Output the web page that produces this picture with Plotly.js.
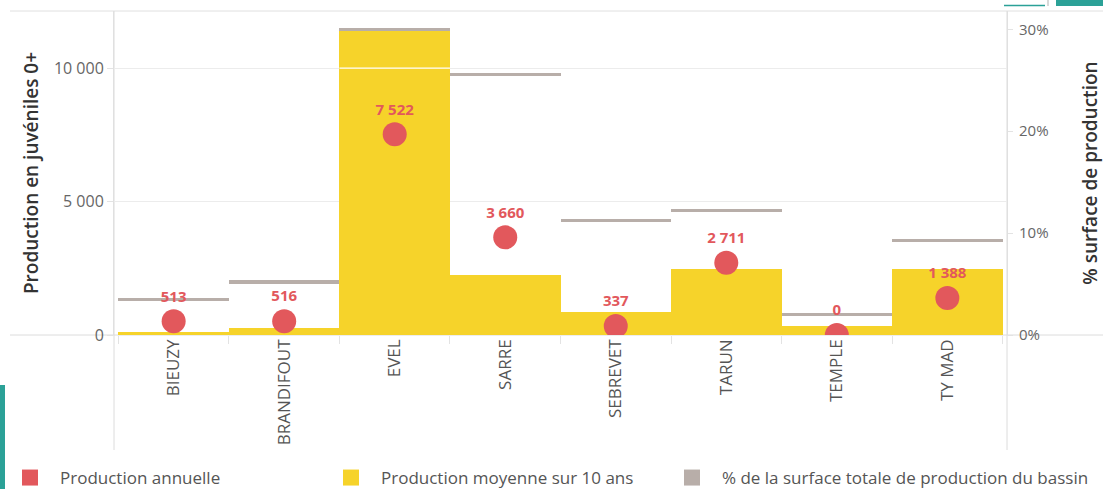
<!DOCTYPE html>
<html><head><meta charset="utf-8">
<script src="https://cdn.plot.ly/plotly-3.0.1.min.js"></script>
<style>html,body{margin:0;padding:0;background:#fff;}#chart{width:1103px;height:489px;}</style>
</head><body><div id="chart"></div>
<script>
const categories = ["BIEUZY","BRANDIFOUT","EVEL","SARRE","SEBREVET","TARUN","TEMPLE","TY MAD"];
const productionAnnuelle = [513, 516, 7522, 3660, 337, 2711, 0, 1388];
const productionMoyenne10 = [124, 274, 11495, 2249, 873, 2462, 349, 2462];
const pctSurface = [3.5, 5.2, 30.0, 25.6, 11.2, 12.2, 2.0, 9.3];
const leftTicks = [0, 5000, 10000];
const rightTicks = [0, 10, 20, 30];
const rightTickText = rightTicks.map(v => v + "%");

const RED = "#E2585C", YELLOW = "#F6D32A", GRAY = "#B8AEA9", TEAL = "#2BA197";
const lineThick = 0.3;

const W = 1103, H = 489, ML = 114, MR = 96, MT = 11, MB = 154;
const PW = W - ML - MR, PH = H - MT - MB;
const px = p => (p - ML) / PW;
const py = p => (H - MB - p) / PH;

const traces = [
  {type:"bar", x:categories, y:productionMoyenne10, yaxis:"y", marker:{color:YELLOW}, width:1, showlegend:false, hoverinfo:"skip"},
  {type:"bar", x:categories, y:pctSurface.map(()=>lineThick), base:pctSurface.map(v=>v-lineThick/2), yaxis:"y2", marker:{color:GRAY}, width:1, showlegend:false, hoverinfo:"skip"},
  {type:"scatter", mode:"markers+text", x:categories, y:productionAnnuelle, yaxis:"y3",
   marker:{color:RED, size:24}, text:productionAnnuelle, texttemplate:"%{y:,d}", textposition:"top center",
   textfont:{color:RED, size:15, weight:700}, cliponaxis:true, showlegend:false, hoverinfo:"skip"},
  {type:"scatter", mode:"markers", x:[null], y:[null], name:"Production annuelle", marker:{color:RED, symbol:"square", size:16}, legend:"legend"},
  {type:"scatter", mode:"markers", x:[null], y:[null], name:"Production moyenne sur 10 ans", marker:{color:YELLOW, symbol:"square", size:16}, legend:"legend2"},
  {type:"scatter", mode:"markers", x:[null], y:[null], name:"% de la surface totale de production du bassin", marker:{color:GRAY, symbol:"square", size:16}, legend:"legend3"}
];

const legendBase = {orientation:"h", xref:"container", yref:"container", yanchor:"middle", xanchor:"left", y:1 - 478/H,
  font:{size:17, color:"#555"}, itemwidth:50, bgcolor:"rgba(0,0,0,0)", borderwidth:0};

const line = (x0,y0,x1,y1,color,width,layer) => ({type:"line", xref:"paper", yref:"paper", x0, y0, x1, y1, line:{color, width}, layer:layer||"below"});

const layout = {
  width:W, height:H, margin:{l:ML, r:MR, t:MT, b:MB, pad:0, autoexpand:false},
  paper_bgcolor:"#fff", plot_bgcolor:"#fff",
  font:{family:"Open Sans, sans-serif", color:"#666"},
  separators:", ",
  barmode:"overlay", bargap:0,
  xaxis:{type:"category", automargin:false, tickangle:-90, tickson:"boundaries", ticks:"outside", ticklen:8, tickcolor:"#e3e3e3",
         showgrid:false, showline:false, zeroline:false, tickfont:{size:17, color:"#555"}, fixedrange:true},
  yaxis:{automargin:false, range:[0, PH/0.02668], tickvals:leftTicks, tickformat:",d", ticks:"outside", ticklen:6, tickcolor:"#e3e3e3",
         showgrid:true, gridcolor:"#ececec", zeroline:false, showline:true, linecolor:"#e0e0e0",
         tickfont:{size:16, color:"#666"},
         title:{text:"Production en juvéniles 0+", font:{size:19, color:"#333", weight:600}, standoff:10}},
  yaxis2:{automargin:false, overlaying:"y", side:"right", range:[0, 31.8], tickmode:"array", tickvals:rightTicks, ticktext:rightTickText,
          ticks:"outside", ticklen:5, tickcolor:"#e3e3e3", ticklabelstandoff:3, showgrid:false, zeroline:false, showline:true, linecolor:"#e0e0e0",
          tickfont:{size:15, color:"#666"},
          title:{text:"% surface de production", font:{size:19, color:"#333", weight:600}, standoff:38}},
  yaxis3:{overlaying:"y", range:[0, PH/0.02668], visible:false},
  legend: Object.assign({}, legendBase, {x:0/W}),
  legend2: Object.assign({}, legendBase, {x:321/W}),
  legend3: Object.assign({}, legendBase, {x:662/W}),
  shapes:[
    line(px(10), 1, px(W), 1, "#e0e0e0", 1),
    line(px(10), 0, px(W), 0, "#dcdcdc", 1),
    line(0, py(450), 0, 1, "#dcdcdc", 1),
    line(1, py(450), 1, 1, "#dcdcdc", 1),
    {type:"line", xref:"x", yref:"y", x0:"EVEL", x0shift:-0.5, x1:"EVEL", x1shift:0.5, y0:10000, y1:10000, line:{color:"#fff", width:1.2}, layer:"above"},
    {type:"rect", xref:"paper", yref:"paper", x0:px(0), x1:px(5), y0:py(489), y1:py(385), fillcolor:TEAL, line:{width:0}},
    {type:"rect", xref:"paper", yref:"paper", x0:px(1056), x1:px(1103), y0:py(6), y1:py(0), fillcolor:TEAL, line:{width:0}},
    line(px(1004), py(5.5), px(1045), py(5.5), TEAL, 1.5),
    line(px(1048), py(6), px(1048), py(0), "#ccc", 1.5)
  ]
};

Plotly.newPlot("chart", traces, layout, {staticPlot:true, displayModeBar:false});
</script>
</body></html>
